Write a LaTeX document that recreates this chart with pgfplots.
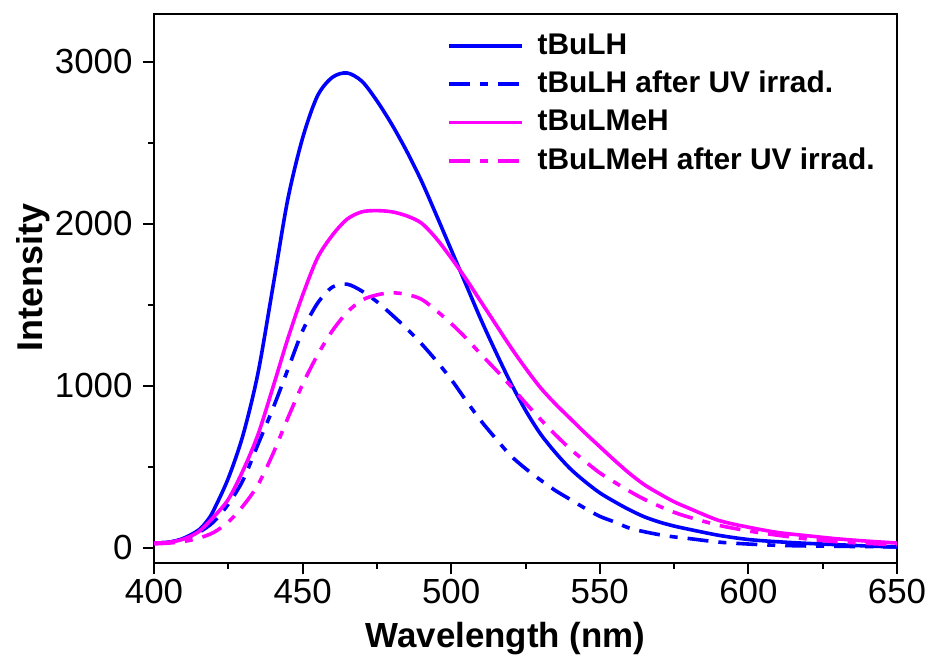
\documentclass[border=0pt]{standalone}
\usepackage{fontspec}
\setmainfont{Liberation Sans}
\usepackage{pgfplots}
\pgfplotsset{compat=1.18}

\definecolor{cblue}{RGB}{0,0,255}
\definecolor{cmag}{RGB}{255,0,255}

% emission spectra (wavelength in nm, intensity)
\pgfplotstableread{
x y
400 30
405 35
410 60
415 110
418 170
420 230
425 430
430 700
435 1080
440 1610
445 2150
450 2530
455 2790
460 2905
465 2932
470 2880
475 2760
480 2615
485 2450
490 2265
495 2055
500 1840
505 1625
510 1410
515 1210
520 1020
525 850
530 705
535 590
540 490
545 410
550 340
555 285
560 235
565 192
570 160
575 135
580 115
590 78
600 52
610 38
620 28
630 20
640 12
650 6
}\tBuLH

\pgfplotstableread{
x y
400 30
405 35
410 55
415 95
420 160
425 270
430 420
435 640
440 860
445 1100
450 1340
455 1510
460 1610
465 1628
470 1585
475 1520
480 1440
485 1355
490 1260
495 1155
500 1040
505 910
510 785
515 675
520 570
525 490
530 420
535 355
540 300
545 245
550 195
555 160
560 122
565 100
570 82
575 68
580 58
590 36
600 24
610 16
620 12
630 10
640 8
650 6
}\tBuLHuv

\pgfplotstableread{
x y
400 30
405 35
410 55
415 100
420 190
425 300
430 480
435 700
440 990
445 1290
450 1560
455 1790
460 1930
465 2030
470 2075
475 2082
480 2075
485 2050
490 2005
495 1910
500 1790
505 1660
510 1520
515 1380
520 1240
525 1110
530 990
535 890
540 800
545 710
550 625
555 540
560 460
565 390
570 335
575 285
580 245
590 170
600 128
610 95
620 75
630 56
640 42
650 30
}\tBuLMeH

\pgfplotstableread{
x y
400 25
405 30
410 40
415 60
420 95
425 160
430 260
435 390
440 580
445 800
450 1010
455 1190
460 1340
465 1455
470 1530
475 1562
480 1575
485 1565
490 1535
495 1465
500 1385
505 1295
510 1195
515 1100
520 1000
525 895
530 795
535 700
540 612
545 535
550 463
555 405
560 350
565 300
570 258
575 220
580 190
590 140
600 105
610 78
620 55
630 38
640 28
650 19
}\tBuLMeHuv

\begin{document}
\begin{tikzpicture}
\begin{axis}[
  name=ax,
  scale only axis,
  width=743bp, height=549bp,
  xmin=400, xmax=650, ymin=-93, ymax=3296,
  xtick={400,450,...,650}, ytick={0,1000,2000,3000},
  minor x tick num=1, minor y tick num=1,
  xtick pos=bottom, ytick pos=left,
  tick align=outside,
  major tick length=11bp, minor tick length=6bp,
  every tick/.style={line width=2bp, black},
  axis line style={line width=2.2bp},
  tick label style={font=\fontsize{35}{40}\selectfont},
  yticklabel style={xshift=-7bp},
  xticklabel style={yshift=-2bp},
  /pgf/number format/assume math mode=true,
  /pgf/number format/1000 sep={},
  legend style={at={(0.39,0.981)}, anchor=north west, draw=none, fill=none,
    font=\bfseries\fontsize{30}{36}\selectfont, row sep=0pt,
    nodes={inner sep=5bp, text height=22.4bp, text depth=6bp}},
  legend cell align=left,
  legend image code/.code={\draw[#1] (0bp,0bp) -- (73bp,0bp); \path (82bp,0bp);},
  every axis plot/.append style={line width=3.6bp, smooth},
]
\addplot[cblue, solid] table {\tBuLH};
\addlegendentry{tBuLH}
\addplot[cblue, dash pattern=on 21bp off 10bp on 8bp off 10bp] table {\tBuLHuv};
\addlegendentry{tBuLH after UV irrad.}
\addplot[cmag, solid] table {\tBuLMeH};
\addlegendentry{tBuLMeH}
\addplot[cmag, dash pattern=on 21bp off 10bp on 8bp off 10bp] table {\tBuLMeHuv};
\addlegendentry{tBuLMeH after UV irrad.}
\end{axis}
\node[rotate=90, anchor=south, inner sep=0pt, font=\bfseries\fontsize{36}{40}\selectfont]
  at ([xshift=-104bp, yshift=11bp]ax.west) {Intensity};
\node[anchor=base, inner sep=0pt, font=\bfseries\fontsize{35}{40}\selectfont]
  at ([xshift=-20bp, yshift=-84bp]ax.south) {Wavelength (nm)};
\pgfresetboundingbox
\path ([xshift=-154bp,yshift=-94bp]ax.south west) rectangle ([xshift=36bp,yshift=14bp]ax.north east);
\end{tikzpicture}
\end{document}
